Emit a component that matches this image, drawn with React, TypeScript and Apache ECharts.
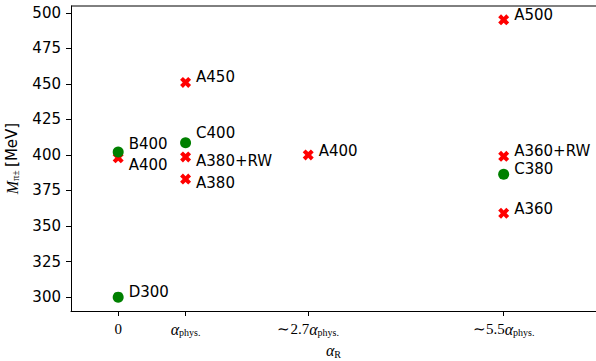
import React, { useEffect, useRef } from "react";
import * as echarts from "echarts";

const xTickValues = [0, 1, 2.82, 5.72];
const xTickLabels = [
  "{z|0}",
  "{a|α}{s|phys.}",
  "{n|∼2.7}{a|α}{s|phys.}",
  "{n|∼5.5}{a|α}{s|phys.}",
];
const yTicks = [300, 325, 350, 375, 400, 425, 450, 475, 500];

const redNames = ["A400", "A450", "A380+RW", "A380", "A400", "A500", "A360+RW", "A360"];
const redX = [0, 1, 1, 1, 2.82, 5.72, 5.72, 5.72];
const redY = [398, 451, 398.6, 383, 400, 495, 399, 359];
const redLabelDy = [7.5, -5, 4.5, 4, -4, -5, -5, -4.5];

const greenNames = ["B400", "D300", "C400", "C380"];
const greenX = [0, 0, 1, 5.72];
const greenY = [402, 300, 408.5, 386.4];
const greenLabelDy = [-8, -5, -9.5, -5];

const X_MARKER =
  "path://M0,2.6 L2.6,0 L5,2.4 L7.4,0 L10,2.6 L7.6,5 L10,7.4 L7.4,10 L5,7.6 L2.6,10 L0,7.4 L2.4,5 Z";

const mathRich = {
  z: { fontFamily: "Liberation Serif", fontSize: 15, color: "#000", lineHeight: 18 },
  n: { fontFamily: "Liberation Serif", fontSize: 15, color: "#000", lineHeight: 18 },
  a: { fontFamily: "Liberation Serif", fontStyle: "italic", fontSize: 16, color: "#000", lineHeight: 18 },
  s: { fontFamily: "Liberation Serif", fontSize: 10, color: "#000", lineHeight: 18, padding: [7, 0, 0, 0] },
};

function buildData(xs: number[], ys: number[], names: string[], dys: number[]) {
  return xs.map((x, i) => ({
    value: [x, ys[i]],
    name: names[i],
    label: { offset: [0, dys[i]] },
  }));
}

export default function App() {
  const ref = useRef<HTMLDivElement>(null);
  useEffect(() => {
    if (!ref.current) return;
    const chart = echarts.init(ref.current, null, { renderer: "svg" });
    const labelStyle = {
      show: true,
      position: "right",
      distance: 5,
      formatter: "{b}",
      fontFamily: "DejaVu Sans",
      fontSize: 15,
      color: "#000",
    };
    chart.setOption({
      animation: false,
      backgroundColor: "#fff",
      grid: { left: 71, top: 6, right: 0, bottom: 50, containLabel: false, outerBoundsMode: "none" },
      xAxis: {
        type: "value",
        min: -0.7,
        max: 7.09,
        position: "bottom",
        axisLine: { show: true, onZero: false, lineStyle: { color: "#000", width: 1 } },
        axisTick: { show: true, customValues: xTickValues, length: 5, lineStyle: { color: "#000" } },
        axisLabel: {
          show: true,
          customValues: xTickValues,
          margin: 9,
          formatter: (v: number) => {
            let best = 0;
            xTickValues.forEach((t, i) => {
              if (Math.abs(t - v) < Math.abs(xTickValues[best] - v)) best = i;
            });
            return xTickLabels[best];
          },
          rich: mathRich,
        },
        splitLine: { show: false },
        name: "{a|α}{s|R}",
        nameLocation: "middle",
        nameGap: 30,
        nameTextStyle: { rich: mathRich },
      },
      yAxis: {
        type: "value",
        min: 290.25,
        max: 504.75,
        axisLine: { show: true, onZero: false, lineStyle: { color: "#000", width: 1 } },
        axisTick: { show: true, customValues: yTicks, length: 5, lineStyle: { color: "#000" } },
        axisLabel: {
          show: true,
          customValues: yTicks,
          margin: 10,
          fontFamily: "DejaVu Sans",
          fontSize: 15,
          color: "#000",
        },
        splitLine: { show: false },
        name: "{m|M}{s|π±} {t|[MeV]}",
        nameLocation: "middle",
        nameGap: 50,
        nameTextStyle: {
          rich: {
            m: { fontFamily: "Liberation Serif", fontStyle: "italic", fontSize: 16, color: "#000", lineHeight: 18 },
            s: { fontFamily: "Liberation Serif", fontSize: 10, color: "#000", lineHeight: 18, padding: [7, 0, 0, 0] },
            t: { fontFamily: "DejaVu Sans", fontSize: 15, color: "#000", lineHeight: 18 },
          },
        },
      },
      graphic: [
        {
          type: "line",
          shape: { x1: 71, y1: 6, x2: 596, y2: 6 },
          style: { stroke: "#000", lineWidth: 1 },
        },
      ],
      series: [
        {
          type: "scatter",
          symbol: X_MARKER,
          symbolSize: 11,
          itemStyle: { color: "#ff0000", opacity: 1 },
          label: labelStyle,
          data: buildData(redX, redY, redNames, redLabelDy),
          z: 2,
        },
        {
          type: "scatter",
          symbol: "circle",
          symbolSize: 11,
          itemStyle: { color: "#008000", opacity: 1 },
          label: labelStyle,
          data: buildData(greenX, greenY, greenNames, greenLabelDy),
          z: 3,
        },
      ],
    });
    return () => chart.dispose();
  }, []);
  return <div ref={ref} style={{ width: 596, height: 361, position: "absolute", left: 0, top: 0 }} />;
}
